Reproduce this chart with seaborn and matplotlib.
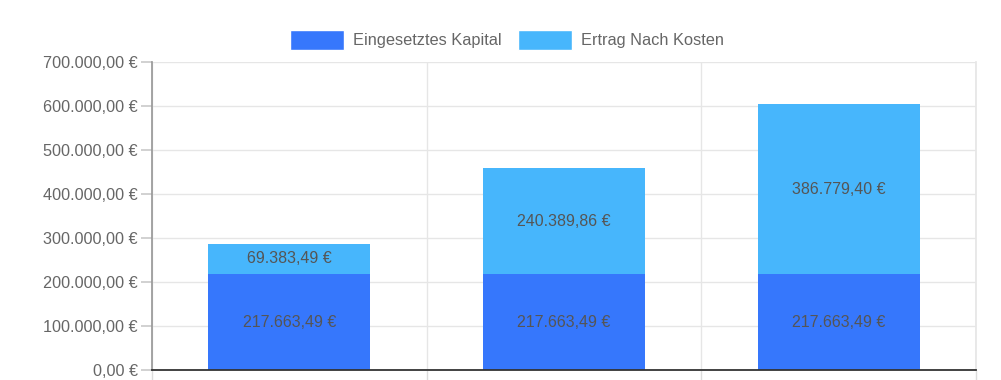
import matplotlib.pyplot as plt
import matplotlib.ticker as mticker
from matplotlib.patches import Patch
import seaborn as sns

# daten
kategorien = ["A", "B", "C"]
kapital = [217663.49, 217663.49, 217663.49]
ertrag = [69383.49, 240389.86, 386779.40]
gesamt = [k + e for k, e in zip(kapital, ertrag)]
y_ticks = [0, 100000, 200000, 300000, 400000, 500000, 600000, 700000]

dunkelblau = "#3677FC"
hellblau = "#47B6FC"


def euro(v):
    s = f"{v:,.2f}".replace(",", "X").replace(".", ",").replace("X", ".")
    return s + " €"


sns.set_theme(style="white")
plt.rcParams['font.family'] = ['Liberation Sans', 'DejaVu Sans']

fig = plt.figure(figsize=(10.01, 3.8), dpi=100)
ax = fig.add_axes([152 / 1001, 10 / 380, (976 - 152) / 1001, (370 - 62) / 380])

# gestapelte balken: erst gesamt (hell), dann kapital (dunkel) darueber
sns.barplot(x=kategorien, y=gesamt, color=hellblau, width=0.59, saturation=1, ax=ax,
            zorder=2, linewidth=0, edgecolor="none")
sns.barplot(x=kategorien, y=kapital, color=dunkelblau, width=0.59, saturation=1, ax=ax,
            zorder=3, linewidth=0, edgecolor="none")

for i, (k, e) in enumerate(zip(kapital, ertrag)):
    ax.text(i, k / 2, euro(k), ha="center", va="center", fontsize=11.5, color="#555555", zorder=4)
    ax.text(i, k + e / 2, euro(e), ha="center", va="center", fontsize=11.5, color="#555555", zorder=4)

ax.set_xlim(-0.5, 2.5)
ax.set_ylim(0, 700000)
ax.set_yticks(y_ticks)
ax.yaxis.set_major_formatter(mticker.FuncFormatter(lambda v, p: euro(v)))
ax.tick_params(axis="y", labelsize=11.7, labelcolor="#666666", length=8, color="#cccccc",
               left=True, pad=2)

# x achse: keine beschriftung, trennlinien zwischen kategorien
ax.set_xticks([])
ax.set_xticks([-0.5, 0.5, 1.5, 2.5], minor=True)
ax.tick_params(axis="x", which="minor", length=10, color="#dddddd", bottom=True)
ax.set_xlabel("")
ax.set_ylabel("")

ax.yaxis.grid(True, color="#e6e6e6", linewidth=1, zorder=0)
ax.xaxis.grid(True, which="minor", color="#e6e6e6", linewidth=1, zorder=0)
ax.set_axisbelow(True)

ax.spines["top"].set_visible(False)
ax.spines["right"].set_color("#e6e6e6")
ax.spines["left"].set_color("#999999")
ax.spines["bottom"].set_color("#333333")
ax.spines["bottom"].set_linewidth(1.3)
ax.spines["bottom"].set_zorder(5)

# legende oben mittig
handles = [Patch(facecolor=dunkelblau, label="Eingesetztes Kapital"),
           Patch(facecolor=hellblau, label="Ertrag Nach Kosten")]
fig.legend(handles=handles, loc="center", bbox_to_anchor=(507 / 1001, 1 - 40 / 380), ncol=2,
           frameon=False, fontsize=11.8, labelcolor="#666666", handlelength=3.3, handleheight=1.5,
           handletextpad=0.55, columnspacing=0.95)

plt.savefig("out.png", dpi=100)
